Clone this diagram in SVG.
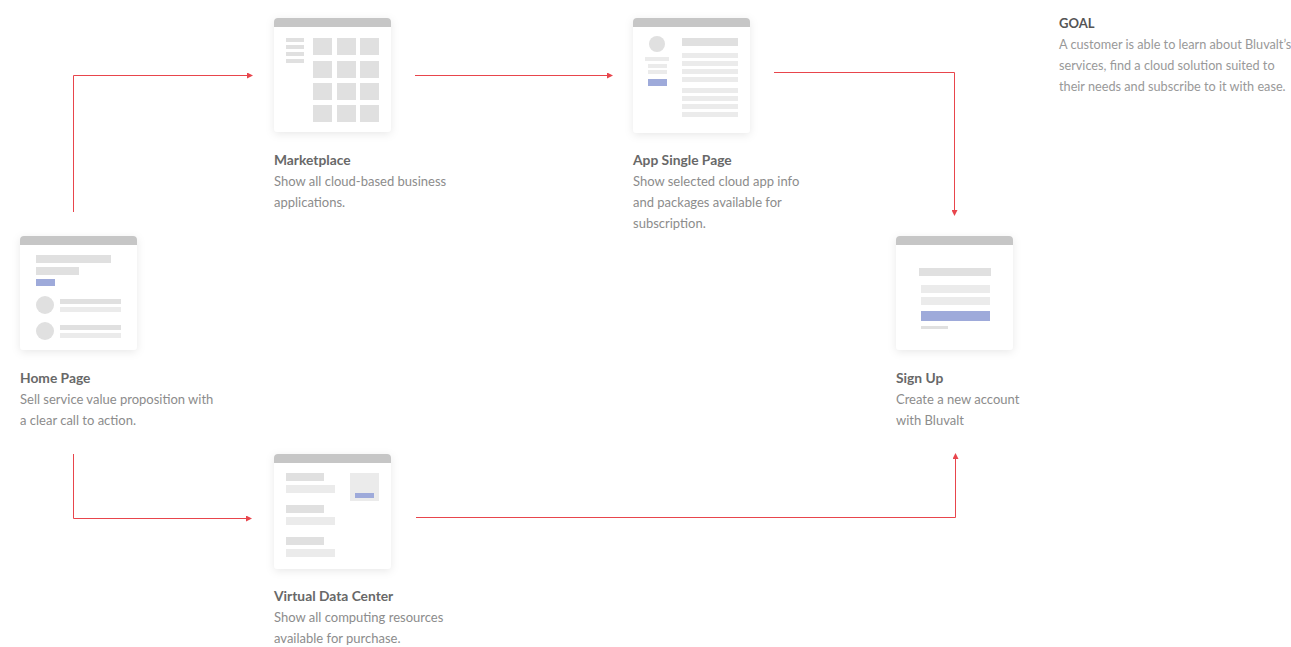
<svg xmlns="http://www.w3.org/2000/svg" width="1291" height="647" viewBox="0 0 1291 647">
<defs>
<filter id="sh" x="-20%" y="-20%" width="140%" height="150%">
<feDropShadow dx="0" dy="2" stdDeviation="4" flood-color="#000" flood-opacity="0.09"/>
</filter>
<marker id="ar" viewBox="0 0 6 6" refX="5" refY="3" markerWidth="6" markerHeight="6" markerUnits="userSpaceOnUse" orient="auto">
<path d="M0,0 L6,3 L0,6 Z" fill="#e8454c"/>
</marker>
<style>
.card{fill:#fff;filter:url(#sh)}
.hdr{fill:#c6c6c6}
.d{fill:#e0e0e0}
.l{fill:#ebebeb}
.b{fill:#9eaada}
.t{font-family:Lato,"Open Sans",sans-serif;font-size:13.8px;font-weight:700;fill:#686868}
.s{font-family:Lato,"Open Sans",sans-serif;font-size:13px;fill:#8c8c8c}
.gt{font-family:Lato,"Open Sans",sans-serif;font-size:13px;font-weight:700;fill:#555}
.gs{font-family:Lato,"Open Sans",sans-serif;font-size:12.7px;fill:#999}
.c{fill:none;stroke:#e8454c;stroke-width:1}
</style>
</defs>
<rect width="1291" height="647" fill="#fff"/>

<g id="connectors">
<path class="c" d="M73.5,212 V75.5 H252" marker-end="url(#ar)"/>
<path class="c" d="M415,75.5 H612" marker-end="url(#ar)"/>
<path class="c" d="M774,72.5 H954.5 V215" marker-end="url(#ar)"/>
<path class="c" d="M73.5,454 V518.5 H251" marker-end="url(#ar)"/>
<path class="c" d="M416,517.5 H955.5 V454" marker-end="url(#ar)"/>
</g>

<g id="home">
<rect class="card" x="20" y="236" width="117" height="114" rx="4"/>
<path class="hdr" d="M20,245 V240 Q20,236 24,236 H133 Q137,236 137,240 V245 Z"/>
<rect class="d" x="36" y="255" width="75" height="8"/>
<rect class="d" x="36" y="267" width="43" height="8"/>
<rect class="b" x="36" y="279" width="19" height="7"/>
<circle class="d" cx="45" cy="305" r="9"/>
<rect class="d" x="60" y="299" width="61" height="5"/>
<rect class="l" x="60" y="307" width="61" height="5"/>
<circle class="d" cx="45" cy="331" r="9"/>
<rect class="d" x="60" y="325" width="61" height="5"/>
<rect class="l" x="60" y="333" width="61" height="5"/>
<text class="t" x="20" y="383">Home Page</text>
<text class="s" x="20" y="404">Sell service value proposition with</text>
<text class="s" x="20" y="425">a clear call to action.</text>
</g>

<g id="marketplace">
<rect class="card" x="274" y="18" width="117" height="114" rx="4"/>
<path class="hdr" d="M274,27 V22 Q274,18 278,18 H387 Q391,18 391,22 V27 Z"/>
<rect class="d" x="286" y="38" width="18" height="4"/>
<rect class="d" x="286" y="45" width="18" height="4"/>
<rect class="d" x="286" y="52" width="18" height="4"/>
<rect class="d" x="286" y="59" width="18" height="4"/>
<rect class="d" x="313" y="38" width="19" height="17"/>
<rect class="d" x="337" y="38" width="19" height="17"/>
<rect class="d" x="360" y="38" width="19" height="17"/>
<rect class="d" x="313" y="61" width="19" height="17"/>
<rect class="d" x="337" y="61" width="19" height="17"/>
<rect class="d" x="360" y="61" width="19" height="17"/>
<rect class="d" x="313" y="83" width="19" height="17"/>
<rect class="d" x="337" y="83" width="19" height="17"/>
<rect class="d" x="360" y="83" width="19" height="17"/>
<rect class="d" x="313" y="105" width="19" height="17"/>
<rect class="d" x="337" y="105" width="19" height="17"/>
<rect class="d" x="360" y="105" width="19" height="17"/>
<text class="t" x="274" y="165">Marketplace</text>
<text class="s" x="274" y="186">Show all cloud-based business</text>
<text class="s" x="274" y="207">applications.</text>
</g>

<g id="app-single-page">
<rect class="card" x="633" y="18" width="117" height="115" rx="4"/>
<path class="hdr" d="M633,27 V22 Q633,18 637,18 H746 Q750,18 750,22 V27 Z"/>
<circle class="d" cx="657" cy="44" r="8"/>
<rect class="l" x="645" y="57" width="24" height="4"/>
<rect class="l" x="648" y="64" width="19" height="4"/>
<rect class="l" x="648" y="70" width="19" height="4"/>
<rect class="b" x="648" y="79" width="19" height="7"/>
<rect class="d" x="682" y="38" width="56" height="8"/>
<rect class="l" x="682" y="53" width="56" height="5"/>
<rect class="l" x="682" y="61" width="56" height="5"/>
<rect class="l" x="682" y="69" width="56" height="5"/>
<rect class="l" x="682" y="77" width="56" height="5"/>
<rect class="l" x="682" y="88" width="56" height="5"/>
<rect class="l" x="682" y="96" width="56" height="5"/>
<rect class="l" x="682" y="104" width="56" height="5"/>
<rect class="l" x="682" y="112" width="56" height="5"/>
<text class="t" x="633" y="165">App Single Page</text>
<text class="s" x="633" y="186">Show selected cloud app info</text>
<text class="s" x="633" y="207">and packages available for</text>
<text class="s" x="633" y="228">subscription.</text>
</g>

<g id="sign-up">
<rect class="card" x="896" y="236" width="117" height="114" rx="4"/>
<path class="hdr" d="M896,245 V240 Q896,236 900,236 H1009 Q1013,236 1013,240 V245 Z"/>
<rect class="d" x="919" y="268" width="72" height="8"/>
<rect class="l" x="921" y="285" width="69" height="8"/>
<rect class="l" x="921" y="297" width="69" height="8"/>
<rect class="b" x="921" y="311" width="69" height="10"/>
<rect class="d" x="921" y="326" width="27" height="3"/>
<text class="t" x="896" y="383">Sign Up</text>
<text class="s" x="896" y="404">Create a new account</text>
<text class="s" x="896" y="425">with Bluvalt</text>
</g>

<g id="virtual-data-center">
<rect class="card" x="274" y="454" width="117" height="115" rx="4"/>
<path class="hdr" d="M274,463 V458 Q274,454 278,454 H387 Q391,454 391,458 V463 Z"/>
<rect class="d" x="286" y="473" width="38" height="8"/>
<rect class="l" x="286" y="485" width="49" height="8"/>
<rect class="d" x="286" y="505" width="38" height="8"/>
<rect class="l" x="286" y="517" width="49" height="8"/>
<rect class="d" x="286" y="537" width="38" height="8"/>
<rect class="l" x="286" y="549" width="49" height="8"/>
<rect class="l" x="350" y="473" width="29" height="28"/>
<rect class="b" x="355" y="493" width="19" height="5"/>
<text class="t" x="274" y="601">Virtual Data Center</text>
<text class="s" x="274" y="622">Show all computing resources</text>
<text class="s" x="274" y="643">available for purchase.</text>
</g>

<g id="goal">
<text class="gt" x="1059" y="28">GOAL</text>
<text class="gs" x="1059" y="49">A customer is able to learn about Bluvalt’s</text>
<text class="gs" x="1059" y="70">services, find a cloud solution suited to</text>
<text class="gs" x="1059" y="91">their needs and subscribe to it with ease.</text>
</g>
</svg>
